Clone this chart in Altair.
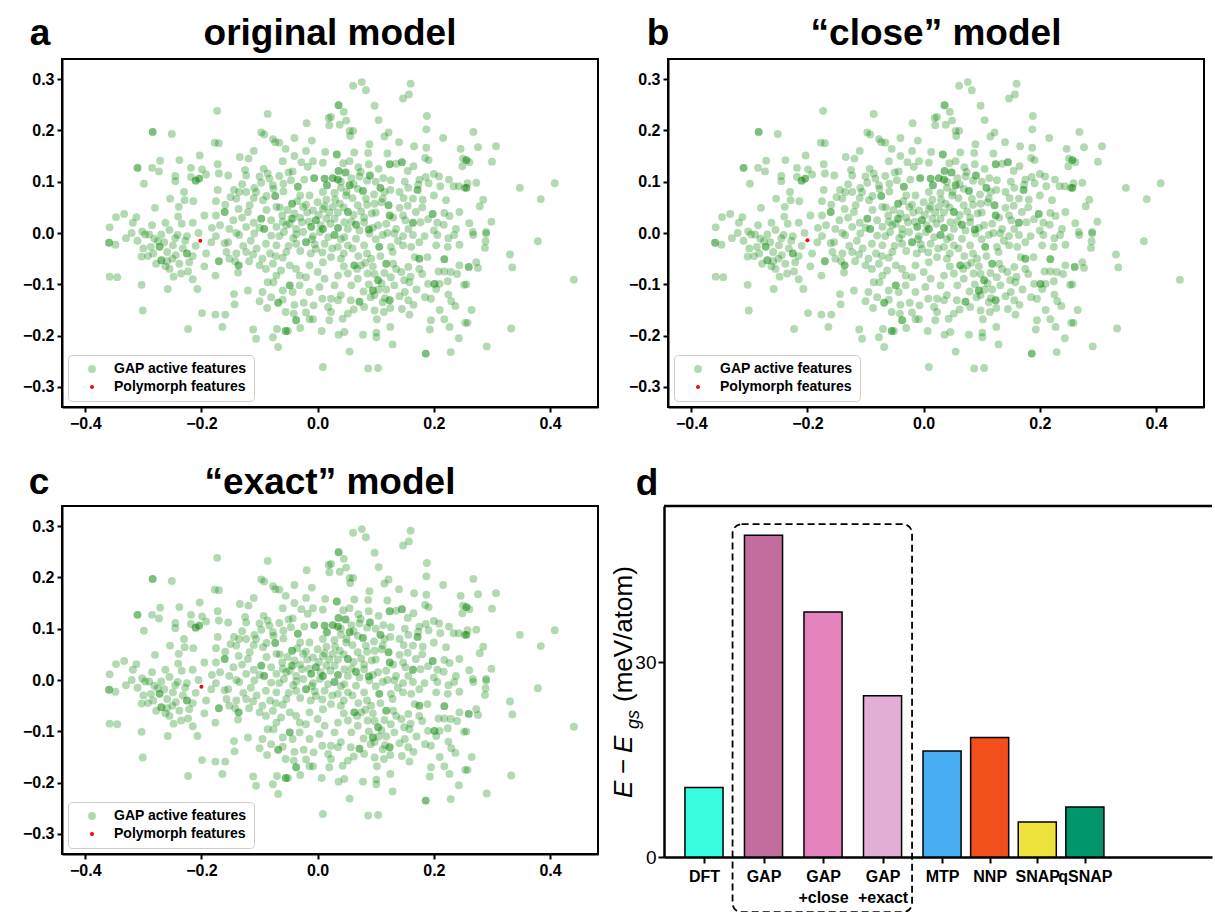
import altair as alt
import pandas as pd

FONT = "Liberation Sans"

# (x, y) coordinates of the GAP active features in the 2-D projection
gap_points = [
    (-0.284, 0.197), (-0.251, 0.193), (-0.310, 0.127), (-0.271, 0.141), (-0.238, 0.142),
    (-0.285, 0.127), (-0.273, 0.120), (-0.245, 0.111), (-0.245, 0.101), (-0.218, 0.127),
    (-0.218, 0.109), (-0.210, 0.102), (-0.299, 0.096), (-0.254, 0.067), (-0.229, 0.064),
    (-0.214, 0.062), (-0.280, 0.049), (-0.239, 0.051), (-0.347, 0.031), (-0.333, 0.037),
    (-0.312, 0.031), (-0.240, 0.032), (-0.234, 0.018), (-0.358, 0.011), (-0.302, 0.003),
    (-0.255, 0.006),
    (-0.173, 0.238), (-0.086, 0.232), (-0.019, 0.214), (0.019, 0.224), (0.020, 0.210),
    (-0.097, 0.196), (-0.092, 0.192), (-0.177, 0.176), (-0.170, 0.175), (-0.077, 0.183),
    (-0.073, 0.177), (-0.066, 0.176), (-0.055, 0.164), (-0.203, 0.151), (-0.134, 0.148),
    (-0.119, 0.145), (-0.172, 0.134), (-0.199, 0.124), (-0.125, 0.123), (-0.093, 0.125),
    (-0.028, 0.138), (-0.008, 0.140), (-0.017, 0.129), (0.013, 0.158), (0.009, 0.137),
    (-0.204, 0.106), (-0.192, 0.114), (-0.170, 0.116), (-0.154, 0.112), (-0.123, 0.112),
    (-0.086, 0.116), (-0.083, 0.106), (-0.066, 0.111), (-0.050, 0.118), (-0.043, 0.120),
    (-0.097, 0.098), (-0.077, 0.093), (-0.059, 0.096), (-0.046, 0.103), (-0.023, 0.104),
    (-0.006, 0.107), (0.012, 0.106), (-0.172, 0.084), (-0.144, 0.084), (-0.135, 0.080),
    (-0.123, 0.080), (-0.109, 0.088), (-0.106, 0.080), (-0.076, 0.086), (-0.073, 0.072),
    (-0.059, 0.081), (-0.034, 0.090), (-0.030, 0.073), (-0.014, 0.073), (0.009, 0.080),
    (0.016, 0.093), (-0.175, 0.062), (-0.159, 0.055), (-0.140, 0.067), (-0.117, 0.054),
    (-0.094, 0.064), (-0.071, 0.051), (-0.044, 0.057), (-0.025, 0.051), (-0.008, 0.044),
    (0.009, 0.047), (-0.195, 0.034), (-0.175, 0.034), (-0.160, 0.041), (-0.136, 0.047),
    (-0.120, 0.041), (-0.097, 0.028), (-0.080, 0.025), (-0.061, 0.034), (-0.043, 0.028),
    (-0.027, 0.021), (-0.003, 0.025), (0.015, 0.028), (-0.182, 0.010), (-0.152, 0.008),
    (-0.123, 0.012), (-0.092, 0.008), (-0.071, 0.012), (-0.054, 0.015), (-0.037, 0.008),
    (-0.011, 0.012), (0.009, 0.008),
    (0.061, 0.287), (0.076, 0.294), (0.083, 0.278), (0.160, 0.291), (0.157, 0.270),
    (0.147, 0.262), (0.036, 0.249), (0.098, 0.248), (0.045, 0.236), (0.023, 0.226),
    (0.049, 0.219), (0.038, 0.211), (0.188, 0.228), (0.187, 0.202), (0.055, 0.199),
    (0.061, 0.199), (0.056, 0.189), (0.122, 0.196), (0.115, 0.188), (0.140, 0.177),
    (0.216, 0.185), (0.089, 0.173), (0.166, 0.169), (0.187, 0.166), (0.246, 0.164),
    (0.063, 0.157), (0.087, 0.156), (0.033, 0.153), (0.185, 0.146), (0.191, 0.142),
    (0.250, 0.145), (0.249, 0.130), (0.088, 0.134), (0.124, 0.134), (0.145, 0.138),
    (0.135, 0.135), (0.044, 0.136), (0.155, 0.121), (0.074, 0.119), (0.036, 0.121),
    (0.048, 0.118), (0.090, 0.112), (0.085, 0.102), (0.113, 0.107), (0.126, 0.103),
    (0.175, 0.104), (0.186, 0.109), (0.209, 0.110), (0.226, 0.104), (0.026, 0.107),
    (0.035, 0.104), (0.058, 0.107), (0.055, 0.093), (0.040, 0.088), (0.069, 0.086),
    (0.078, 0.082), (0.108, 0.088), (0.125, 0.084), (0.141, 0.080), (0.156, 0.088),
    (0.172, 0.084), (0.173, 0.094), (0.191, 0.097), (0.211, 0.091), (0.234, 0.091),
    (0.243, 0.091), (0.253, 0.088), (0.029, 0.078), (0.049, 0.073), (0.083, 0.067),
    (0.097, 0.075), (0.112, 0.067), (0.148, 0.068), (0.164, 0.067), (0.181, 0.065),
    (0.200, 0.073), (0.221, 0.064), (0.038, 0.057), (0.069, 0.054), (0.098, 0.057),
    (0.122, 0.054), (0.141, 0.049), (0.155, 0.053), (0.026, 0.051), (0.052, 0.041),
    (0.075, 0.042), (0.093, 0.038), (0.124, 0.034), (0.147, 0.034), (0.169, 0.041),
    (0.198, 0.037), (0.218, 0.039), (0.227, 0.033), (0.244, 0.041), (0.029, 0.028),
    (0.046, 0.021), (0.066, 0.016), (0.080, 0.021), (0.104, 0.015), (0.118, 0.018),
    (0.151, 0.025), (0.164, 0.020), (0.177, 0.021), (0.190, 0.027), (0.206, 0.020),
    (0.217, 0.016), (0.035, 0.010), (0.052, 0.008), (0.088, 0.007), (0.135, 0.008),
    (0.156, 0.008), (0.238, 0.008),
    (0.268, 0.197), (0.276, 0.167), (0.307, 0.169), (0.261, 0.138), (0.300, 0.139),
    (0.256, 0.142), (0.258, 0.097), (0.273, 0.098), (0.256, 0.088), (0.348, 0.088),
    (0.408, 0.097), (0.384, 0.066), (0.285, 0.065), (0.279, 0.052), (0.261, 0.019),
    (0.299, 0.022), (0.290, 0.002), (0.267, 0.002),
    (0.268, -0.004), (0.290, -0.001), (0.289, -0.016), (0.288, -0.029), (0.379, -0.016),
    (0.331, -0.042), (0.273, -0.057), (0.260, -0.066), (0.276, -0.068), (0.335, -0.067),
    (0.441, -0.091), (0.256, -0.100), (0.265, -0.150), (0.258, -0.175), (0.333, -0.186),
    (0.291, -0.221),
    (-0.359, -0.019), (-0.348, -0.023), (-0.358, -0.085), (-0.345, -0.086), (-0.303, -0.046),
    (-0.303, -0.101), (-0.301, -0.151), (-0.258, -0.109), (-0.223, -0.187), (-0.297, -0.003),
    (-0.287, -0.027), (-0.281, -0.011), (-0.272, -0.027), (-0.269, -0.053), (-0.264, -0.018),
    (-0.259, -0.037), (-0.255, -0.070), (-0.249, -0.024), (-0.244, -0.043), (-0.241, -0.004),
    (-0.238, -0.060), (-0.235, -0.079), (-0.225, -0.040), (-0.223, -0.075), (-0.221, -0.057),
    (-0.225, -0.006), (-0.290, -0.003), (-0.259, -0.055), (-0.275, -0.016), (-0.269, -0.003),
    (-0.170, -0.055), (-0.136, -0.063), (-0.176, -0.083), (-0.137, -0.077), (-0.207, -0.109),
    (-0.199, -0.156), (-0.176, -0.159), (-0.159, -0.159), (-0.164, -0.183), (-0.144, -0.119),
    (-0.143, -0.139), (-0.120, -0.112), (-0.100, -0.133), (-0.087, -0.146), (-0.111, -0.188),
    (-0.106, -0.206), (-0.077, -0.203), (-0.068, -0.222), (-0.070, -0.187), (-0.055, -0.191),
    (-0.051, -0.191), (-0.068, -0.136), (-0.055, -0.154), (-0.041, -0.157), (-0.037, -0.170),
    (-0.024, -0.136), (-0.008, -0.168), (-0.014, -0.168), (-0.007, -0.141), (0.007, -0.191),
    (0.009, -0.261), (0.008, -0.128), (0.018, -0.144), (-0.076, -0.096), (-0.086, -0.096),
    (-0.060, -0.112), (-0.071, -0.083), (-0.048, -0.102), (-0.043, -0.115), (-0.031, -0.102),
    (-0.014, -0.115), (-0.031, -0.083), (0.003, -0.105), (0.012, -0.089), (-0.020, -0.086),
    (0.000, -0.076), (-0.100, -0.063), (-0.089, -0.070), (-0.077, -0.060), (-0.063, -0.073),
    (-0.048, -0.063), (-0.037, -0.070), (-0.014, -0.063), (0.009, -0.057), (-0.192, -0.040),
    (-0.183, -0.018), (-0.157, -0.037), (-0.152, -0.050), (-0.140, -0.040), (-0.123, -0.037),
    (-0.111, -0.042), (-0.154, -0.018), (-0.175, -0.006), (-0.135, -0.004), (-0.109, -0.001),
    (-0.089, -0.021), (-0.071, -0.024), (-0.054, -0.037), (-0.037, -0.021), (-0.020, -0.018),
    (-0.003, -0.031), (0.012, -0.021), (-0.066, -0.006), (-0.037, -0.003), (-0.008, -0.006),
    (0.029, -0.004), (0.046, -0.008), (0.066, -0.011), (0.089, -0.001), (0.112, -0.004),
    (0.132, -0.001), (0.147, -0.006), (0.164, -0.004), (0.184, -0.006), (0.206, -0.004),
    (0.235, -0.004), (0.035, -0.027), (0.052, -0.024), (0.080, -0.024), (0.106, -0.027),
    (0.126, -0.027), (0.147, -0.024), (0.161, -0.027), (0.175, -0.018), (0.204, -0.024),
    (0.224, -0.027), (0.244, -0.023), (0.023, -0.047), (0.040, -0.050), (0.063, -0.063),
    (0.075, -0.063), (0.092, -0.050), (0.118, -0.060), (0.129, -0.037), (0.167, -0.047),
    (0.175, -0.050), (0.189, -0.047), (0.218, -0.051), (0.244, -0.063), (0.175, -0.070),
    (0.156, -0.066), (0.035, -0.083), (0.052, -0.079), (0.069, -0.089), (0.086, -0.079),
    (0.104, -0.092), (0.126, -0.086), (0.144, -0.076), (0.149, -0.092), (0.158, -0.096),
    (0.190, -0.099), (0.201, -0.099), (0.210, -0.099), (0.224, -0.094), (0.208, -0.075),
    (0.218, -0.075), (0.229, -0.076), (0.252, -0.101), (0.029, -0.102), (0.058, -0.102),
    (0.079, -0.114), (0.095, -0.112), (0.132, -0.102), (0.204, -0.109), (0.040, -0.121),
    (0.098, -0.121), (0.023, -0.128), (0.035, -0.131), (0.057, -0.131), (0.072, -0.134),
    (0.080, -0.144), (0.091, -0.125), (0.116, -0.127), (0.124, -0.131), (0.141, -0.123),
    (0.156, -0.131), (0.195, -0.128), (0.230, -0.133), (0.237, -0.142), (0.023, -0.154),
    (0.043, -0.167), (0.052, -0.157), (0.062, -0.149), (0.098, -0.151), (0.114, -0.154),
    (0.125, -0.146), (0.145, -0.148), (0.158, -0.159), (0.102, -0.168), (0.195, -0.170),
    (0.218, -0.168), (0.254, -0.175), (0.125, -0.183), (0.193, -0.188), (0.227, -0.183),
    (0.036, -0.198), (0.046, -0.193), (0.078, -0.198), (0.101, -0.194), (0.101, -0.203),
    (0.243, -0.205), (0.129, -0.217), (0.186, -0.235), (0.229, -0.232), (0.055, -0.231),
    (0.087, -0.264), (0.104, -0.263),
    # crowded core and left cluster, where the discs overlap heavily
    (-0.052, 0.045), (-0.040, 0.038), (-0.018, 0.040), (0.002, 0.035), (0.020, 0.040),
    (-0.048, 0.018), (-0.030, 0.030), (-0.015, 0.022), (0.005, 0.015), (0.022, 0.018),
    (-0.058, 0.002), (-0.042, -0.010), (-0.025, 0.002), (-0.010, -0.012), (0.004, 0.002),
    (0.018, -0.008), (-0.050, -0.025), (-0.030, -0.035), (-0.012, -0.040), (0.008, -0.038),
    (0.025, -0.030), (-0.020, 0.055), (0.000, 0.060), (-0.035, 0.062), (0.015, 0.065),
    (-0.005, -0.022), (-0.045, 0.028), (0.012, 0.052),
    (0.040, 0.100), (0.062, 0.095), (0.072, 0.110), (0.050, 0.080), (0.030, 0.065),
    (0.060, 0.068), (0.085, 0.055), (0.045, 0.050), (0.062, 0.035), (0.080, 0.030),
    (0.035, 0.040), (0.100, 0.040), (0.110, 0.060), (0.058, 0.022), (0.072, 0.005),
    (0.095, 0.010), (0.040, -0.012), (0.060, -0.030), (0.085, -0.040), (0.100, -0.012),
    (0.045, -0.040), (0.070, -0.045), (0.108, -0.045), (0.095, -0.065), (0.082, -0.058),
    (0.115, -0.078), (0.098, -0.080), (0.110, -0.098), (0.088, -0.100), (0.105, -0.110),
    (0.118, -0.110), (0.112, -0.135), (0.068, -0.070), (0.045, -0.065), (0.130, -0.060),
    (0.138, -0.015), (0.120, 0.000), (0.130, 0.030), (0.115, 0.080), (0.100, 0.100),
    (0.070, 0.128), (0.055, 0.140), (0.105, 0.125),
    (-0.145, 0.025), (-0.130, 0.030), (-0.110, 0.020), (-0.088, 0.045), (-0.065, 0.050),
    (-0.140, 0.000), (-0.115, -0.015), (-0.100, 0.010), (-0.080, -0.005), (-0.060, 0.022),
    (-0.128, -0.025), (-0.105, -0.030), (-0.082, -0.040), (-0.060, -0.048), (-0.142, -0.055),
    (-0.118, -0.055), (-0.095, -0.050), (-0.072, -0.045), (-0.160, -0.020), (-0.168, 0.015),
    (-0.150, 0.070), (-0.130, 0.095), (-0.110, 0.068), (-0.088, 0.072), (-0.100, 0.110),
    (-0.060, 0.140), (-0.040, 0.150), (-0.020, 0.160), (-0.040, 0.185), (-0.110, 0.160),
    (-0.320, 0.000), (-0.310, -0.015), (-0.300, -0.030), (-0.292, -0.045), (-0.283, -0.040),
    (-0.278, -0.060), (-0.262, -0.065), (-0.250, -0.050), (-0.245, -0.010), (-0.232, -0.030),
    (-0.228, -0.015), (-0.215, -0.045), (-0.210, -0.025), (-0.205, 0.000), (-0.215, 0.020),
    (-0.195, -0.065), (-0.262, 0.020), (-0.285, 0.015), (-0.318, 0.020), (-0.330, -0.010),
    (-0.248, -0.085), (-0.215, -0.090), (-0.230, 0.080),
    (0.135, -0.070), (0.160, -0.085), (0.180, -0.080), (0.170, -0.110), (0.185, -0.125),
    (0.150, -0.115), (0.165, -0.140), (0.210, -0.150), (0.225, -0.120), (0.240, -0.080),
    (0.225, -0.010), (0.200, 0.005), (0.180, 0.050), (0.200, 0.115), (0.165, 0.130),
    (0.150, 0.100), (0.120, 0.155), (0.105, 0.220), (-0.010, 0.180),
    (-0.095, -0.115), (-0.080, -0.125), (-0.060, -0.130), (-0.040, -0.140), (-0.020, -0.155),
    (0.020, -0.170), (-0.030, -0.185),
]

# features that sit on top of one another; listed again so they read darker
stacked_points = [
    (-0.284, 0.197), (-0.310, 0.127), (-0.210, 0.102), (-0.204, 0.106), (-0.006, 0.107),
    (0.012, 0.106), (-0.073, 0.072), (-0.034, 0.090), (0.016, 0.093), (-0.044, 0.057),
    (-0.160, 0.041), (-0.097, 0.028), (-0.003, 0.025), (-0.092, 0.008), (-0.011, 0.012),
    (0.009, 0.008), (0.036, 0.249), (0.033, 0.153), (0.124, 0.134), (0.145, 0.138),
    (0.036, 0.121), (0.048, 0.118), (0.090, 0.112), (0.026, 0.107), (0.035, 0.104),
    (0.055, 0.093), (0.078, 0.082), (0.108, 0.088), (0.172, 0.084), (0.122, 0.054),
    (0.052, 0.041), (0.124, 0.034), (0.198, 0.037), (0.066, 0.016), (0.164, 0.020),
    (0.035, 0.010), (0.088, 0.007), (0.256, 0.142), (0.256, 0.088), (0.260, -0.066),
    (-0.359, -0.019), (-0.272, -0.027), (-0.269, -0.053), (-0.225, -0.040), (-0.170, -0.055),
    (-0.136, -0.063), (-0.055, -0.191), (-0.068, -0.136), (-0.037, -0.170), (-0.048, -0.102),
    (-0.020, -0.018), (0.029, -0.004), (0.106, -0.027), (0.063, -0.063), (0.118, -0.060),
    (0.175, -0.050), (0.218, -0.051), (0.104, -0.092), (0.201, -0.099), (0.095, -0.112),
    (0.072, -0.134), (0.124, -0.131), (0.186, -0.235),
]

legend_labels = ["GAP active features", "Polymorph features"]
panel_letters = ["a", "b", "c"]
panel_titles = ["original model", "\u201cclose\u201d model", "\u201cexact\u201d model"]
polymorph_points = [(-0.202, -0.015), (-0.200, -0.014), (-0.200, -0.013)]
x_ticks = [-0.4, -0.2, 0.0, 0.2, 0.4]
y_ticks = [-0.3, -0.2, -0.1, 0.0, 0.1, 0.2, 0.3]

model_names = ["DFT", "GAP", "GAP\n+close", "GAP\n+exact", "MTP", "NNP", "SNAP", "qSNAP"]
model_slots = [0, 1.25, 2.5, 3.75, 5, 6, 7, 8]
energy_above_gs = [10.7, 49.5, 37.7, 24.8, 16.3, 18.4, 5.4, 7.7]
bar_colors = ["#38fcdd", "#c16d9e", "#e483bd", "#e3aed5", "#47adf2", "#f24f1d", "#ece23b", "#00956a"]
energy_ticks = [0, 30]

SC_W, SC_H = 536, 348
D_W, D_H = 548, 351


def heading(text, dx, dy, align):
    """Bold text placed relative to the panel's plot area (panel letter or panel title)."""
    return alt.Chart(pd.DataFrame({"t": [text]})).mark_text(
        font=FONT, fontSize=37, fontWeight="bold", align=align,
        baseline="alphabetic", color="black",
    ).encode(text="t:N", x=alt.value(dx), y=alt.value(dy))


def feature_panel(letter, title, poly, dx, dy):
    green = pd.DataFrame(gap_points + stacked_points, columns=["x", "y"])
    green["series"] = legend_labels[0]
    red = pd.DataFrame([poly], columns=["x", "y"])
    red["series"] = legend_labels[1]
    df = pd.concat([green, red], ignore_index=True)

    axis_style = dict(
        labelFont=FONT, labelFontWeight="bold", labelFontSize=16, labelColor="black",
        tickColor="black", tickWidth=2, tickSize=5, domainColor="black", domainWidth=2,
        grid=False, title=None, format=".1f", labelPadding=3,
    )
    legend = alt.Legend(
        title=None, orient="bottom-left", offset=6, padding=7,
        strokeColor="#cccccc", cornerRadius=4, fillColor="rgba(255,255,255,0.85)",
        labelFont=FONT, labelFontWeight="bold", labelFontSize=14, labelColor="black",
        symbolType="circle", symbolStrokeWidth=0, symbolOffset=10, labelOffset=15,
        rowPadding=4,
    )
    dots = alt.Chart(df).mark_circle(strokeWidth=0).encode(
        x=alt.X("x:Q", scale=alt.Scale(domain=[-0.44, 0.4825], nice=False, zero=False),
                axis=alt.Axis(values=x_ticks, **axis_style)),
        y=alt.Y("y:Q", scale=alt.Scale(domain=[-0.339, 0.339], nice=False, zero=False),
                axis=alt.Axis(values=y_ticks, **axis_style)),
        color=alt.Color("series:N", scale=alt.Scale(domain=legend_labels, range=["#008000", "#ff0000"]),
                        legend=legend),
        opacity=alt.Opacity("series:N", scale=alt.Scale(domain=legend_labels, range=[0.3, 1.0]),
                            legend=legend),
        size=alt.Size("series:N", scale=alt.Scale(domain=legend_labels, range=[62, 16]),
                      legend=legend),
    )
    return alt.layer(
        dots,
        heading(letter, dx, dy, "center"),
        heading(title, SC_W / 2, dy, "center"),
    ).properties(width=SC_W, height=SC_H)


def energy_panel():
    df = pd.DataFrame({"model": model_names, "slot": model_slots, "energy": energy_above_gs})
    label_expr = ""
    for name, slot in zip(model_names, model_slots):
        parts = name.split("\n")
        lit = "[" + ",".join("'" + p + "'" for p in parts) + "]" if len(parts) > 1 else "'" + name + "'"
        label_expr += f"datum.value == {slot} ? {lit} : "
    label_expr += "''"

    x_axis = alt.Axis(values=model_slots, labelExpr=label_expr, title=None, grid=False,
                      labelFont=FONT, labelFontWeight="bold", labelFontSize=16,
                      labelColor="black", labelLineHeight=21, labelOverlap=False,
                      labelFlush=False, labelPadding=5, tickColor="black", tickWidth=2,
                      tickSize=6, domainColor="black", domainWidth=2.5)
    y_axis = alt.Axis(values=energy_ticks, title=None, grid=False, labelFont=FONT,
                      labelFontSize=19, labelColor="black", tickColor="black",
                      tickWidth=2, tickSize=6, domainColor="black", domainWidth=2.5,
                      labelPadding=2)
    x_scale = alt.Scale(domain=[-0.84, 10.67], nice=False, zero=False)
    y_scale = alt.Scale(domain=[0, 54], nice=False, zero=False)

    bars = alt.Chart(df).transform_calculate(
        lo="datum.slot - 0.4", hi="datum.slot + 0.4", base="0"
    ).mark_bar(stroke="black", strokeWidth=1.5).encode(
        x=alt.X("lo:Q", scale=x_scale, axis=x_axis),
        x2="hi:Q",
        y=alt.Y("energy:Q", scale=y_scale, axis=y_axis),
        y2="base:Q",
        color=alt.Color("model:N", scale=alt.Scale(domain=model_names, range=bar_colors), legend=None),
    )

    # dashed frame grouping the three GAP variants, reaching down over their labels
    box_df = pd.DataFrame({
        "lo": [model_slots[1] - 0.65], "hi": [model_slots[3] + 0.62],
        "energy": [max(energy_above_gs) + 1.7], "base": [-8.5],
    })
    box = alt.Chart(box_df).mark_rect(
        fillOpacity=0, stroke="black", strokeWidth=1.8, strokeDash=[7, 4], cornerRadius=9, clip=False
    ).encode(
        x=alt.X("lo:Q", scale=x_scale, axis=x_axis), x2="hi:Q",
        y=alt.Y("energy:Q", scale=y_scale, axis=y_axis), y2="base:Q",
    )

    top_spine = alt.Chart(pd.DataFrame({"t": [0]})).mark_rule(color="black", strokeWidth=2.5).encode(
        x=alt.value(0), x2=alt.value(D_W), y=alt.value(0)
    )

    # y label: E - E_gs (meV/atom), built piece by piece, read bottom to top
    label_pieces = [
        ("E", "italic", 26, -32, 292),
        ("\u2212", "normal", 26, -32, 268),
        ("E", "italic", 26, -32, 247),
        ("gs", "italic", 18, -25, 223),
        ("(meV/atom)", "normal", 26, -32, 196),
    ]
    ylabel_layers = []
    for text, style, size, px, py in label_pieces:
        ylabel_layers.append(
            alt.Chart(pd.DataFrame({"t": [text]})).mark_text(
                font=FONT, fontSize=size, fontStyle=style, angle=270, align="left",
                baseline="alphabetic", color="black",
            ).encode(text="t:N", x=alt.value(px), y=alt.value(py))
        )

    return alt.layer(bars, box, top_spine, *ylabel_layers, heading("d", -17, -11, "center")).properties(
        width=D_W, height=D_H, view=alt.ViewBackground(strokeOpacity=0)
    )


independent = dict(color="independent", opacity="independent", size="independent")

a = feature_panel(panel_letters[0], panel_titles[0], polymorph_points[0], -22, -14)
b = feature_panel(panel_letters[1], panel_titles[1], polymorph_points[1], -10, -14)
c = feature_panel(panel_letters[2], panel_titles[2], polymorph_points[2], -23, -12)
d = energy_panel()

top_row = alt.hconcat(a, b, spacing=28).resolve_scale(**independent).resolve_legend(**independent)
bottom_row = alt.hconcat(c, d, spacing=11).resolve_scale(**independent).resolve_legend(**independent)

chart = alt.vconcat(top_row, bottom_row, spacing=31).resolve_scale(**independent).resolve_legend(
    **independent
).properties(
    padding={"left": 21, "top": 14, "right": 0, "bottom": 0},
    background="white",
).configure_view(stroke="black", strokeWidth=2)

chart.save("out.html", embed_options={"renderer": "svg", "actions": False})
